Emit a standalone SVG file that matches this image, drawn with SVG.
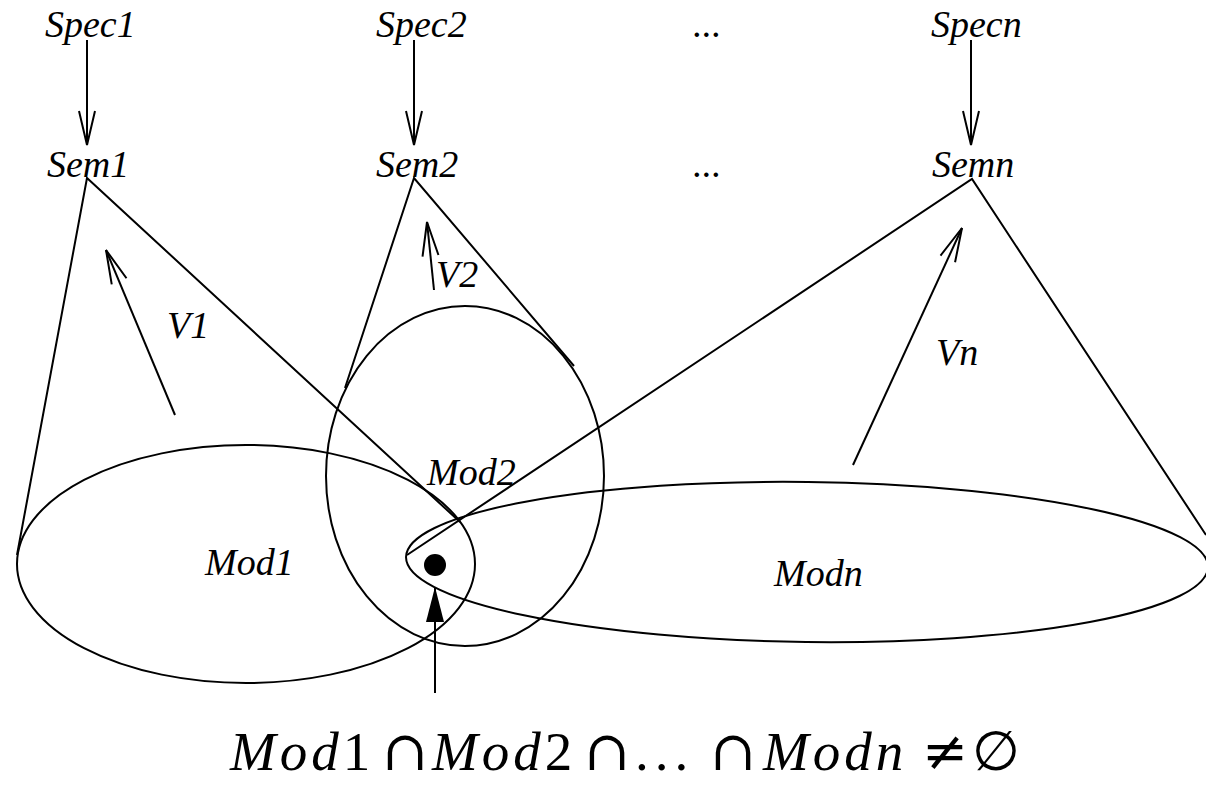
<svg xmlns="http://www.w3.org/2000/svg" width="1206" height="786" viewBox="0 0 1206 786">
  <style>
    .lbl { font-family: "Liberation Serif", "DejaVu Serif", serif; font-style: italic; font-size: 38px; fill: #000; }
    .shape { fill: none; stroke: #000; stroke-width: 2; }
    .ln { fill: none; stroke: #000; stroke-width: 2; }
    .math { font-family: "Liberation Serif", "DejaVu Serif", serif; font-size: 55px; fill: #000; }
    .mi { font-style: italic; letter-spacing: 4px; }
    .sym { font-family: "DejaVu Serif", serif; }
  </style>
  <defs>
    <marker id="open" markerUnits="userSpaceOnUse" markerWidth="40" markerHeight="20" viewBox="0 0 40 20" refX="35" refY="10" orient="auto">
      <path d="M1,2 L35,10 L1,18" fill="none" stroke="#000" stroke-width="2"/>
    </marker>
    <marker id="filled" markerUnits="userSpaceOnUse" markerWidth="40" markerHeight="20" viewBox="0 0 40 20" refX="36" refY="10" orient="auto">
      <path d="M1,1 L36,10 L1,19 z" fill="#000" stroke="none"/>
    </marker>
  </defs>
  <rect width="1206" height="786" fill="#fff"/>

  <g id="connectors">
    <line class="ln" x1="87" y1="40" x2="87" y2="145" marker-end="url(#open)"/>
    <line class="ln" x1="414" y1="40" x2="414" y2="145" marker-end="url(#open)"/>
    <line class="ln" x1="971" y1="40" x2="971" y2="145" marker-end="url(#open)"/>
    <polyline class="ln" points="17,555 87,178 460,522"/>
    <polyline class="ln" points="345,388 414,178 574,366"/>
    <polyline class="ln" points="407,555 972,179 1206,535"/>
    <line class="ln" x1="175" y1="415" x2="106" y2="250" marker-end="url(#open)"/>
    <line class="ln" x1="434" y1="290" x2="427" y2="222" marker-end="url(#open)"/>
    <line class="ln" x1="853" y1="465" x2="962" y2="228" marker-end="url(#open)"/>
    <line class="ln" x1="435" y1="693" x2="435" y2="587" marker-end="url(#filled)"/>
  </g>

  <g id="spec1"><text class="lbl" x="45" y="37">Spec1</text></g>
  <g id="spec2"><text class="lbl" x="376" y="37">Spec2</text></g>
  <g id="dots1"><text class="lbl" x="693" y="37">...</text></g>
  <g id="specn"><text class="lbl" x="931" y="37">Specn</text></g>

  <g id="sem1"><text class="lbl" x="47" y="177">Sem1</text></g>
  <g id="sem2"><text class="lbl" x="376" y="177">Sem2</text></g>
  <g id="dots2"><text class="lbl" x="693" y="177">...</text></g>
  <g id="semn"><text class="lbl" x="932" y="177">Semn</text></g>

  <g id="v1"><text class="lbl" x="167" y="338">V1</text></g>
  <g id="v2"><text class="lbl" x="436" y="287">V2</text></g>
  <g id="vn"><text class="lbl" x="936" y="365">Vn</text></g>

  <g id="mod1">
    <ellipse class="shape" cx="246" cy="564" rx="229" ry="119"/>
    <text class="lbl" x="205" y="575">Mod1</text>
  </g>
  <g id="mod2">
    <ellipse class="shape" cx="465" cy="476" rx="139" ry="170"/>
    <text class="lbl" x="427" y="485">Mod2</text>
  </g>
  <g id="modn">
    <ellipse class="shape" cx="807" cy="562" rx="401" ry="80" transform="rotate(0.7 807 562)"/>
    <text class="lbl" x="774" y="586">Modn</text>
  </g>

  <g id="intersection">
    <circle cx="435" cy="565" r="11" fill="#000"/>
  </g>

  <g id="formula">
    <text class="math" y="770"><tspan class="mi" x="230">Mod</tspan><tspan>1</tspan><tspan class="sym" x="382">∩</tspan><tspan class="mi" x="432">Mod</tspan><tspan>2</tspan><tspan class="sym" x="584">∩</tspan><tspan x="635" letter-spacing="6">...</tspan><tspan class="sym" x="710">∩</tspan><tspan class="mi" x="763">Modn</tspan><tspan class="sym" x="922">≠</tspan><tspan class="sym" x="972">∅</tspan></text>
  </g>
</svg>
